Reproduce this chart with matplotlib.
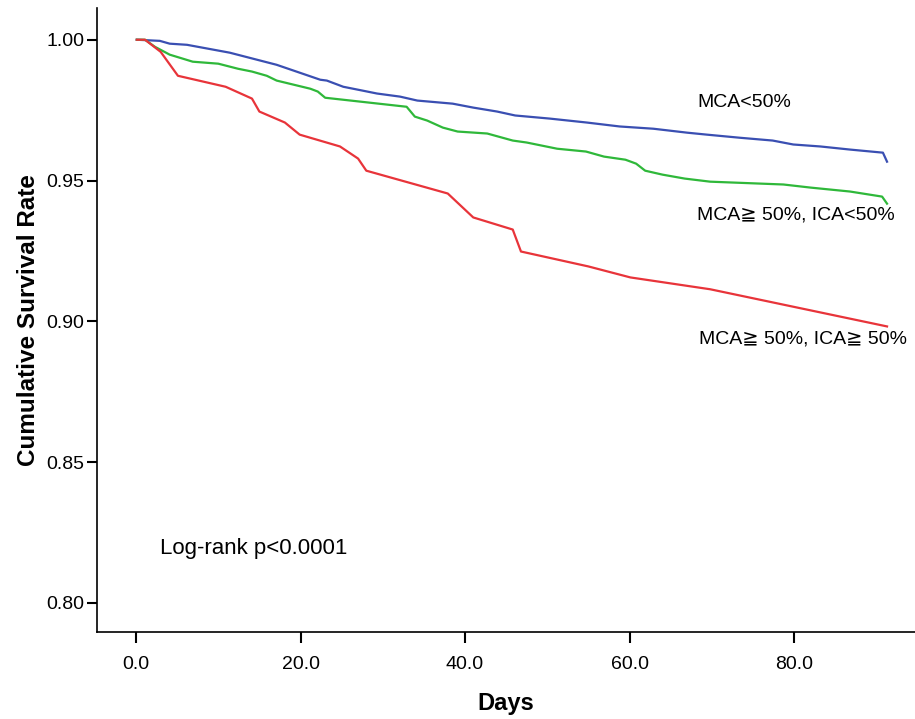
import matplotlib
matplotlib.use("Agg")
import matplotlib.pyplot as plt

# curves (days, cumulative survival)
days_mca_lt50 = [0.1, 2.9, 4.1, 6.2, 11.4, 17.1, 19.9, 22.4, 23.2, 25.2, 27.6, 29.3, 32.1, 34.2,
                 38.5, 41.0, 43.9, 46.1, 50.3, 54.8, 58.8, 62.9, 67.0, 69.4, 73.4, 77.4, 79.9,
                 83.2, 86.8, 90.8, 91.3]
surv_mca_lt50 = [1.000, 0.9996, 0.9986, 0.9982, 0.9954, 0.9911, 0.9883, 0.9858, 0.9855, 0.9833,
                 0.9819, 0.9809, 0.9798, 0.9784, 0.9773, 0.9759, 0.9745, 0.9731, 0.9720, 0.9706,
                 0.9692, 0.9684, 0.9670, 0.9663, 0.9652, 0.9642, 0.9628, 0.9621, 0.9610, 0.9599,
                 0.9567]

days_ica_lt50 = [0.1, 1.1, 2.3, 4.1, 6.9, 10.0, 12.4, 14.1, 15.9, 17.1, 21.2, 22.1, 23.0, 32.9,
                 33.9, 35.4, 37.3, 39.1, 42.7, 45.8, 47.5, 51.2, 54.7, 56.9, 59.5, 60.8, 61.9,
                 64.0, 66.7, 69.8, 78.7, 82.0, 86.8, 90.7, 91.3]
surv_ica_lt50 = [1.000, 1.000, 0.9975, 0.9947, 0.9922, 0.9915, 0.9897, 0.9887, 0.9872, 0.9855,
                 0.9826, 0.9816, 0.9794, 0.9762, 0.9727, 0.9713, 0.9688, 0.9674, 0.9667, 0.9642,
                 0.9635, 0.9613, 0.9603, 0.9585, 0.9574, 0.9560, 0.9535, 0.9521, 0.9507, 0.9496,
                 0.9486, 0.9475, 0.9461, 0.9443, 0.9418]

days_ica_ge50 = [0.1, 1.1, 3.0, 5.1, 10.9, 14.1, 15.0, 18.1, 19.9, 24.8, 27.0, 28.0, 37.9, 41.0,
                 45.8, 46.8, 55.0, 60.1, 69.8, 91.3]
surv_ica_ge50 = [1.000, 1.000, 0.9957, 0.9872, 0.9833, 0.9791, 0.9745, 0.9706, 0.9663, 0.9621,
                 0.9578, 0.9535, 0.9454, 0.9369, 0.9326, 0.9248, 0.9195, 0.9156, 0.9114, 0.8982]

x_ticks = [0, 20, 40, 60, 80]
x_tick_labels = ["0.0", "20.0", "40.0", "60.0", "80.0"]
y_ticks = [0.80, 0.85, 0.90, 0.95, 1.00]
y_tick_labels = ["0.80", "0.85", "0.90", "0.95", "1.00"]

plt.rcParams['font.family'] = ['Liberation Sans', 'DejaVu Sans']
narrow = ['Liberation Sans Narrow', 'Liberation Sans', 'DejaVu Sans']

fig = plt.figure(figsize=(9.15, 7.19), dpi=100)
ax = fig.add_axes([0.106, 0.121, 0.894, 0.868])

ax.plot(days_mca_lt50, surv_mca_lt50, color='#3a4fb2', lw=1.6)
ax.plot(days_ica_lt50, surv_ica_lt50, color='#2fb83a', lw=1.6)
ax.plot(days_ica_ge50, surv_ica_ge50, color='#e8343a', lw=1.6)

ax.text(68.2, 0.9777, "MCA<50%", fontsize=14, va='center', ha='left')
ax.text(68.2, 0.9376, "MCA\u2267 50%, ICA<50%", fontsize=14, va='center', ha='left',
        family=['Liberation Sans', 'DejaVu Sans'])
ax.text(68.5, 0.8936, "MCA\u2267 50%, ICA\u2267 50%", fontsize=14, va='center', ha='left',
        family=['Liberation Sans', 'DejaVu Sans'])
ax.text(2.9, 0.8195, "Log-rank p<0.0001", fontsize=16, va='center', ha='left')

ax.set_xlim(-4.74, 94.7)
ax.set_ylim(0.7897, 1.0113)

ax.set_xticks(x_ticks)
ax.set_xticklabels(x_tick_labels, family=narrow, fontsize=14)
ax.set_yticks(y_ticks)
ax.set_yticklabels(y_tick_labels, fontsize=14)
ax.tick_params(axis='x', direction='out', length=8, width=1.5, pad=9)
ax.tick_params(axis='y', direction='out', length=7, width=1.5, pad=2)

for side in ['top', 'right']:
    ax.spines[side].set_visible(False)
for side in ['left', 'bottom']:
    ax.spines[side].set_linewidth(1.2)

ax.set_xlabel("Days", family=narrow, fontweight='bold', fontsize=17, labelpad=14)
ax.set_ylabel("Cumulative Survival Rate", family=narrow, fontweight='bold', fontsize=17.5,
              labelpad=5)

fig.savefig("out.png", dpi=100)
